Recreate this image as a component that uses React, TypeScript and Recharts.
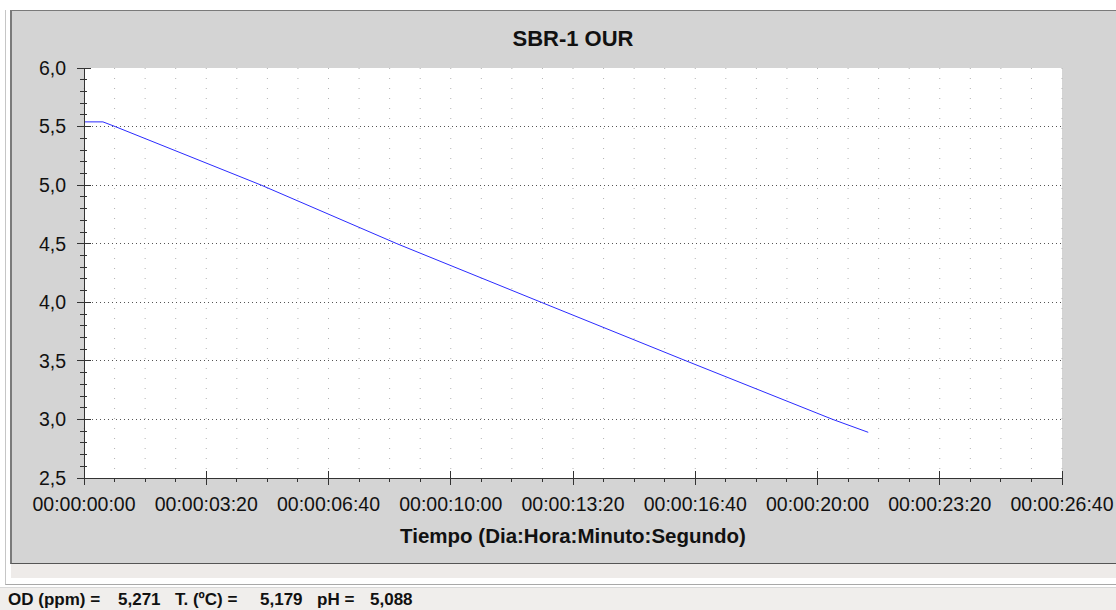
import { LineChart, Line, XAxis, YAxis, CartesianGrid, ReferenceLine } from "recharts";

// OD readings (ppm) over elapsed seconds
const times = [0, 31, 51, 290, 512, 748, 985, 1225, 1283];
const odValues = [5.54, 5.54, 5.5, 5.0, 4.5, 4.0, 3.5, 3.0, 2.89];

const xMajorTicks = [0, 200, 400, 600, 800, 1000, 1200, 1400, 1600];
const yMajorTicks = [2.5, 3.0, 3.5, 4.0, 4.5, 5.0, 5.5, 6.0];

const chartTitle = "SBR-1 OUR";
const xTitle = "Tiempo (Dia:Hora:Minuto:Segundo)";
const statusLabels = ["OD (ppm) =", "T. (ºC) =", "pH ="];
const statusValues = ["5,271", "5,179", "5,088"];

const FONT = "'Liberation Sans', Arial, sans-serif";
const AX = "#333";

// minor subdivisions: 4 per major step on x, 5 per major step on y
const xMinorTicks = xMajorTicks.flatMap((t, i) =>
  i === 0 ? [t] : [1, 2, 3, 4].map((k) => xMajorTicks[i - 1] + (k * (t - xMajorTicks[i - 1])) / 4)
);
const yMinorTicks = yMajorTicks.flatMap((v, i) =>
  i === 0
    ? [v]
    : [1, 2, 3, 4, 5].map((k) => Math.round((yMajorTicks[i - 1] + (k * (v - yMajorTicks[i - 1])) / 5) * 10) / 10)
);

const data = times.map((t, i) => ({ t, od: odValues[i] }));

const pad = (n: number) => String(n).padStart(2, "0");
const fmtTime = (s: number) => `00:00:${pad(Math.floor(s / 60))}:${pad(s % 60)}`;
const fmtY = (v: number) => v.toFixed(1).replace(".", ",");
const isMajorX = (t: number) => xMajorTicks.includes(t);
const isMajorY = (v: number) => yMajorTicks.some((m) => Math.abs(m - v) < 1e-6);

const BottomTick = (p: any) => {
  const { x, y, payload } = p;
  const major = isMajorX(payload.value);
  return (
    <g>
      <line x1={x} x2={x} y1={major ? y - 7 : y} y2={major ? y + 7 : y + 4} stroke={AX} shapeRendering="crispEdges" />
      {major && (
        <text x={x} y={y + 33} textAnchor="middle" fontSize={19.5} fill="#111" fontFamily={FONT}>
          {fmtTime(payload.value)}
        </text>
      )}
    </g>
  );
};

const TopTick = (p: any) => {
  const { x, y, payload } = p;
  const major = isMajorX(payload.value);
  return <line x1={x} x2={x} y1={y} y2={y + (major ? 7 : 4)} stroke={AX} shapeRendering="crispEdges" />;
};

const LeftTick = (p: any) => {
  const { x, y, payload } = p;
  const major = isMajorY(payload.value);
  return (
    <g>
      <line x1={major ? x - 7 : x - 4} x2={major ? x + 7 : x + 3} y1={y} y2={y} stroke={AX} shapeRendering="crispEdges" />
      {major && (
        <text x={x - 18} y={y} dy="0.35em" textAnchor="end" fontSize={19.5} fill="#111" fontFamily={FONT}>
          {fmtY(payload.value)}
        </text>
      )}
    </g>
  );
};

export default function App() {
  return (
    <div style={{ position: "absolute", left: 0, top: 0, width: 1116, height: 610, background: "#fff", overflow: "hidden" }}>
      <div style={{ position: "absolute", left: 5, top: 10, width: 1111, height: 575, borderLeft: "1px solid #c6c6c6", borderBottom: "1px solid #a8a8a8", boxSizing: "border-box" }} />
      <div style={{ position: "absolute", left: 10, top: 10, width: 1106, height: 554, background: "#d4d4d4", borderTop: "1px solid #7a7a7a", borderLeft: "2px solid #7a7a7a", borderBottom: "1px solid #555", boxSizing: "border-box" }} />
      <div style={{ position: "absolute", left: 11, top: 564, width: 1105, height: 14, background: "#eeebe9" }} />
      <div style={{ position: "absolute", left: 0, top: 587, width: 1116, height: 23, background: "#f0eeec", borderTop: "1px solid #d8d8d8" }} />

      <div style={{ position: "absolute", left: 0, top: 0 }}>
        <LineChart width={1116} height={610} data={data} margin={{ top: 68, right: 54, bottom: 72, left: 0 }}>
          <CartesianGrid xAxisId="bottom" yAxisId="left" horizontal={false} stroke="#b4b4b4" strokeDasharray="1 9" fill="#fff" />
          {yMajorTicks.slice(1, -1).map((v) => (
            <ReferenceLine key={v} xAxisId="bottom" yAxisId="left" y={v} stroke="#555" strokeDasharray="1 3" shapeRendering="crispEdges" />
          ))}
          <XAxis xAxisId="bottom" dataKey="t" type="number" domain={[0, 1600]} ticks={xMinorTicks} interval={0} height={60} tickLine={false} tickSize={0} tickMargin={0} axisLine={{ stroke: AX, shapeRendering: "crispEdges" }} tick={<BottomTick />} />
          <XAxis xAxisId="top" orientation="top" type="number" domain={[0, 1600]} ticks={xMinorTicks} interval={0} height={0} tickLine={false} tickSize={0} tickMargin={0} axisLine={{ stroke: AX, shapeRendering: "crispEdges" }} tick={<TopTick />} />
          <YAxis yAxisId="left" type="number" domain={[2.5, 6]} ticks={yMinorTicks} interval={0} width={84} tickLine={false} tickSize={0} tickMargin={0} axisLine={{ stroke: AX, shapeRendering: "crispEdges" }} tick={<LeftTick />} />
          <YAxis yAxisId="right" orientation="right" type="number" domain={[2.5, 6]} width={0} tick={false} tickLine={false} axisLine={{ stroke: AX, shapeRendering: "crispEdges" }} />
          <Line xAxisId="bottom" yAxisId="left" type="linear" dataKey="od" stroke="#2b2bff" strokeWidth={1} dot={false} isAnimationActive={false} />
        </LineChart>
      </div>

      <svg width={1116} height={610} style={{ position: "absolute", left: 0, top: 0, pointerEvents: "none" }}>
        <text x={573} y={45.5} textAnchor="middle" fontSize={22} fontWeight="bold" fill="#111" fontFamily={FONT}>
          {chartTitle}
        </text>
        <text x={573} y={543} textAnchor="middle" fontSize={20.5} fontWeight="bold" fill="#111" fontFamily={FONT}>
          {xTitle}
        </text>
        <text y={605} fontSize={17} fontWeight="bold" fill="#111" fontFamily={FONT}>
          <tspan x={8}>{statusLabels[0]}</tspan>
          <tspan x={118}>{statusValues[0]}</tspan>
          <tspan x={175}>{statusLabels[1]}</tspan>
          <tspan x={260}>{statusValues[1]}</tspan>
          <tspan x={317}>{statusLabels[2]}</tspan>
          <tspan x={370}>{statusValues[2]}</tspan>
        </text>
      </svg>
    </div>
  );
}
